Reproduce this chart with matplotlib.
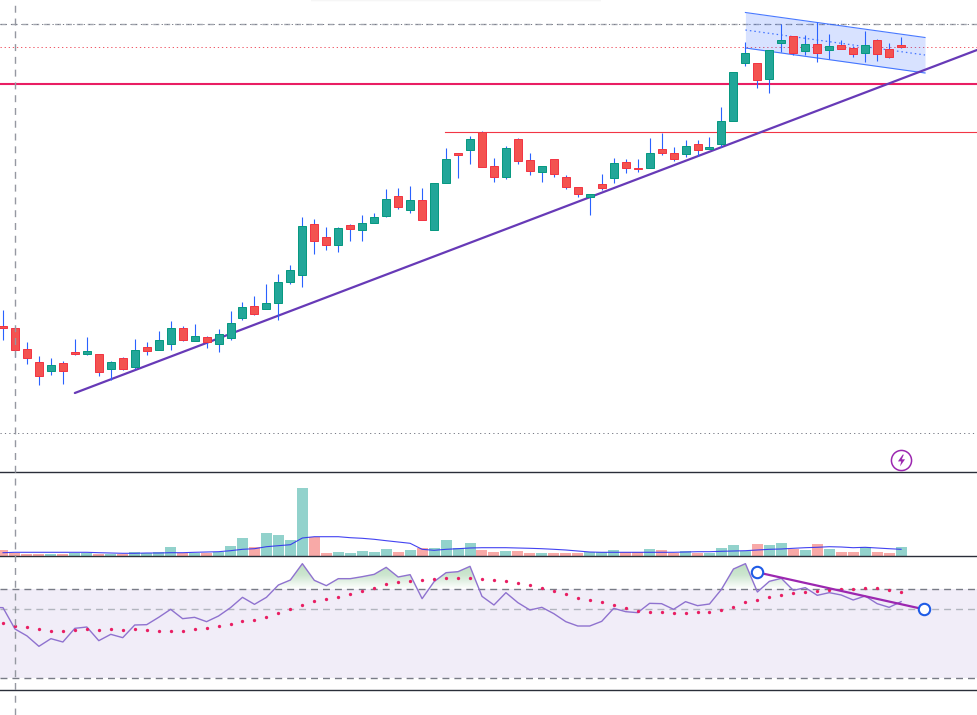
import numpy as np
import matplotlib
matplotlib.use("Agg")
import matplotlib.pyplot as plt
from matplotlib.path import Path
from matplotlib.transforms import blended_transform_factory
from matplotlib.colors import LinearSegmentedColormap
from matplotlib.lines import Line2D

# OHLC series, one value per session
body_top = [146.0,143.7,122.7,109.7,106.7,108.7,120.0,120.7,117.7,109.7,113.7,121.7,124.7,131.7,143.7,143.7,135.7,134.7,137.7,148.7,
            164.7,165.7,168.7,189.7,201.7,245.7,247.7,234.7,243.7,246.7,248.7,254.7,272.7,275.7,271.7,271.7,288.7,312.7,318.7,332.7,
            339.7,305.7,323.7,332.7,311.7,305.7,312.7,294.7,284.7,277.7,287.7,308.7,309.7,304.0,318.7,322.7,318.7,325.7,327.7,324.7,
            350.7,399.7,418.7,408.7,421.7,431.7,435.7,427.7,427.7,425.7,426.7,423.7,426.7,431.7,422.7,426.7]
body_bottom = [144.3,122.3,113.7,96.3,100.7,101.3,118.3,118.3,100.3,103.3,103.3,105.3,121.3,122.3,128.3,132.3,131.3,130.3,128.3,134.3,
               154.3,158.3,163.5,168.7,189.7,196.7,231.3,226.7,227.3,243.3,242.3,248.7,256.3,265.3,262.3,251.7,241.7,288.7,316.7,321.7,
               304.7,294.7,294.7,310.7,300.7,299.7,297.7,284.7,277.7,275.3,284.3,293.7,303.7,303.3,303.7,318.7,312.7,317.7,321.7,322.7,
               327.7,350.7,408.7,391.7,393.3,428.7,418.7,420.7,418.7,421.7,422.7,417.7,418.7,417.7,414.7,424.7]
session_high = [162,144.7,130,116,114,111,133,135,118,111,115,133,130,141,151,146,148,136,143,161,
                170,176,188,198,207,255,253,245,245,248,257,259,283,284,286,284,288.7,324,319,336,
                341,314,326,334,319,305.7,312.7,296.7,284.7,278,298,314,313,313,334,339,324.7,332,332,335,
                364.7,399.7,429.7,408.7,422,447.7,436,436.7,449.7,437.7,431.7,425.7,440.7,432.7,428.7,434.7]
session_low = [132,115.3,108.3,87.3,97.3,88.3,117.3,117.3,96.3,91.7,102.3,103.3,117.3,122.3,122,131,131.3,124.3,120.3,132,
               152,157,163.5,152.3,188.3,185.3,218.3,222.3,220.3,231.3,231.3,248.7,255.3,263.3,259.3,251.7,241.7,288.7,294.3,308.3,
               304.7,290.3,293.3,308.3,297.3,290.3,294.7,282.7,275.3,257,282.3,288.7,299.3,300.3,303.7,317,311.3,315.3,316.3,322.7,
               324.7,350.7,406.3,384.3,379.3,419.7,416.7,417.3,410.3,412.7,422.7,415.3,410.3,411.3,413.7,423.7]
candle_dir = list("rrrrgrrgrgrgrggrgrgg" "grggggrrgrgggrgrggrg" "rrgrrgrrrgrgrrgrrgrg" "gggrggrgrgrrgrrr")

# Volume bars and their moving average
volume = [6,3,2,2,2,2,3,3,2,2,2,4,3,4,9,3,3,3,4,10,18,9,23,21,16,68,19,3,4,3,5,4,7,4,6,8,8,16,8,13,6,
          4,5,5,3,3,3,3,3,4,4,6,4,4,7,6,3,5,3,3,8,11,5,12,11,13,7,6,12,7,4,4,9,4,3,9]
volume_dir = list("rrrrgrggrgrggggrgrgg" "grggggrrgggggrgrgggg" "rrgrrgrrrgggrrgrrgrg" "gggrggrgrgrrgrrg")
volume_ma = [3.3,3.7,3.7,3.7,3.7,3.7,3.7,3.7,3.3,3.0,2.7,2.7,3.0,3.0,3.3,3.3,3.7,4.0,4.3,5.3,
             6.7,7.3,9.3,10.3,11.3,18.0,19.3,19.3,19.3,18.3,17.7,16.7,15.3,14.0,12.7,6.7,5.7,6.7,7.3,8.0,
             8.3,8.3,8.3,8.0,7.7,7.3,6.7,6.0,5.0,4.0,3.7,3.7,3.7,3.7,3.7,3.7,3.7,4.0,4.3,4.3,
             4.7,5.0,5.3,6.0,6.7,7.0,7.7,8.3,8.7,9.3,9.0,8.3,8.7,8.0,7.3,6.7]

# RSI starts one session before the first candle
rsi = [61.85,61.7,52.1,49.0,44.3,47.75,46.25,52.4,53.0,46.85,49.7,48.2,53.9,54.05,57.35,60.95,56.75,57.35,55.4,57.95,61.7,66.35,63.2,66.35,71.9,74.15,81.5,74.0,71.6,
       74.75,74.75,75.65,76.7,79.85,75.5,76.55,65.75,73.4,77.45,77.9,80.3,66.8,62.9,68.45,63.95,60.65,61.85,59.0,55.4,53.45,53.45,55.55,61.4,59.9,59.45,63.65,
       63.5,60.95,64.4,62.6,63.35,69.95,79.1,81.5,68.75,73.55,74.9,69.5,70.7,67.25,68.45,67.4,65.15,66.95,63.5,61.85,64.4]
rsi_ma = [54.65,53.6,52.85,51.95,51.05,51.05,51.5,51.95,51.5,51.95,51.5,51.95,51.5,51.05,51.05,51.05,51.95,52.4,53.3,54.2,55.55,56.0,57.35,59.15,60.95,62.75,64.55,65.45,
          66.35,67.7,69.05,70.4,72.2,73.1,73.55,74.0,74.45,74.9,74.9,74.9,74.45,74.0,73.55,72.65,71.75,70.4,69.05,67.7,65.9,65.0,64.1,62.75,61.4,60.05,59.6,
          59.6,59.15,59.15,59.6,59.6,60.5,61.85,64.1,65.0,66.35,67.25,68.15,68.6,69.05,69.5,69.95,69.95,70.4,70.4,69.5,68.6]

# Price levels, trendlines and channel drawn over the candles
level_dashed = 448.3
level_dotted_red = 424.7
level_support = 388.0
level_resistance = 340.0
level_floor = 39.0
trend_sessions = [6.0, 81.34]
trend_prices = [79.0, 422.0]
channel_sessions = [62.0, 77.0]
channel_top = [459.5, 434.5]
channel_mid = [442.0, 417.0]
channel_bottom = [424.0, 399.0]
rsi_trend_sessions = [63.0, 76.93]
rsi_trend_values = [77.6, 60.95]
rsi_upper, rsi_mid, rsi_lower = 70.0, 60.95, 30.0

UP_FACE, UP_EDGE = "#22a699", "#089981"
DOWN_FACE, DOWN_EDGE = "#f35350", "#f23645"
WICK = "#2962ff"
PX = 0.72

W, H = 977, 715
fig = plt.figure(figsize=(W / 100, H / 100), dpi=100, facecolor="white")


def pane(top, bottom):
    ax = fig.add_axes([0, (H - bottom) / H, 1, (bottom - top) / H])
    ax.set_xlim(-0.2505, 81.34)
    ax.set_xticks([])
    ax.set_yticks([])
    for side in ("top", "left", "right"):
        ax.spines[side].set_visible(False)
    ax.spines["bottom"].set_color("#2a2e39")
    ax.spines["bottom"].set_linewidth(1.0)
    ax.patch.set_alpha(0)
    return ax


ax_price = pane(0, 472)
ax_vol = pane(472, 556)
ax_rsi = pane(556, 690)
ax_price.set_ylim(0, 472)
ax_vol.set_ylim(0, 84)
ax_rsi.set_ylim(24.65, 84.95)

sessions = np.arange(len(body_top))
top = np.array(body_top)
bottom = np.array(body_bottom)
is_up = np.array(candle_dir) == "g"

# Faint shadow along the upper edge
shade = LinearSegmentedColormap.from_list("shade", ["#ffffff", "#eeeeee"])
ax_price.imshow(np.linspace(0, 1, 8).reshape(-1, 1), cmap=shade, aspect="auto",
                extent=(25.7, 49.9, 469.5, 472), origin="lower", zorder=0)
ax_price.set_xlim(-0.2505, 81.34)
ax_price.set_ylim(0, 472)

# Horizontal levels
ax_price.axhline(level_dashed, color="#a3a6af", lw=1.0, dashes=(6 / 1.4, 5 / 1.4), zorder=1)
ax_price.axhline(level_dashed, color="#787b86", lw=PX, dashes=(1.2, 4), zorder=1)
ax_price.axhline(level_dotted_red, color="#f05a68", lw=PX, dashes=(1.3, 2.8), zorder=1)
ax_price.axhline(level_floor, color="#787b86", lw=PX, dashes=(1.2, 3.2), zorder=1)
ax_price.axhline(level_support, color="#e91e63", lw=1.5, zorder=2)
ax_price.plot([36.9, 81.34], [level_resistance] * 2, color="#f23645", lw=0.8, zorder=2)

# Falling channel
ax_price.fill_between(channel_sessions, channel_bottom, channel_top, color="#2962ff", alpha=0.18, lw=0, zorder=2)
ax_price.plot(channel_sessions, channel_top, color="#2962ff", lw=0.8, alpha=0.85, zorder=3)
ax_price.plot(channel_sessions, channel_bottom, color="#2962ff", lw=0.8, alpha=0.85, zorder=3)
ax_price.plot(channel_sessions, channel_mid, color="#2962ff", lw=0.9, dashes=(1.2, 2.4), alpha=0.85, zorder=3)

# Rising trendline
ax_price.plot(trend_sessions, trend_prices, color="#673ab7", lw=1.6, zorder=3, solid_capstyle="round")

# Candles
ax_price.vlines(sessions, session_low, session_high, color=WICK, lw=PX * 1.1, zorder=4)
ax_price.bar(sessions, top - bottom, bottom=bottom, width=8.0 / 11.975,
             color=[UP_FACE if u else DOWN_FACE for u in is_up],
             edgecolor=[UP_EDGE if u else DOWN_EDGE for u in is_up],
             linewidth=PX, zorder=5)

# Round alert badge with a lightning bolt
ax_price.plot(75, 12.5, marker="o", ms=14.5, mfc="white", mec="#9c27b0", mew=1.1, zorder=6)
bolt = Path([(0.2, 1), (-0.6, -0.15), (-0.05, -0.15), (-0.25, -1), (0.6, 0.2), (0.05, 0.2), (0.4, 1), (0.2, 1)], closed=True)
ax_price.plot(75, 12.5, marker=bolt, ms=8.5, mfc="#9c27b0", mec="none", zorder=7)

# Volume pane
vol_up = np.array(volume_dir) == "g"
ax_vol.bar(sessions, volume, width=11 / 11.975,
           color=["#92d2cc" if u else "#f8a9a7" for u in vol_up], lw=0, zorder=2)
ax_vol.plot(sessions, volume_ma, color="#2f2ff0", lw=0.8, alpha=0.9, zorder=3)

# RSI pane: band, reference levels, overbought gradient, line and average
rsi_x = np.arange(-1, len(rsi) - 1)
rsi_vals = np.array(rsi)
ax_rsi.axhspan(rsi_lower, rsi_upper, color="#7e57c2", alpha=0.105, lw=0, zorder=1)
ax_rsi.axhline(rsi_upper, color="#787b86", lw=1.0, dashes=(5, 3.6), zorder=2)
ax_rsi.axhline(rsi_lower, color="#787b86", lw=1.0, dashes=(5, 3.6), zorder=2)
ax_rsi.axhline(rsi_mid, color="#b2b5be", lw=1.0, dashes=(5, 3.6), zorder=2)

over = ax_rsi.fill_between(rsi_x, rsi_upper, rsi_vals, where=rsi_vals > rsi_upper, interpolate=True, lw=0, alpha=0)
clip = Path.make_compound_path(*over.get_paths())
green = LinearSegmentedColormap.from_list("over", ["#ffffff", "#cde6d0", "#b9ddbd"])
grad = ax_rsi.imshow(np.linspace(0, 1, 64).reshape(-1, 1), cmap=green, aspect="auto", origin="lower",
                     extent=(-0.25, 81.34, rsi_upper, 82.5), zorder=1.5)
grad.set_clip_path(clip, transform=ax_rsi.transData)
ax_rsi.set_xlim(-0.2505, 81.34)
ax_rsi.set_ylim(24.65, 84.95)

ax_rsi.plot(rsi_x, rsi_vals, color="#8f72cf", lw=1.0, zorder=3)
ax_rsi.plot(sessions, rsi_ma, ls="none", marker="o", ms=2.4, mfc="#e91e63", mec="none", zorder=4)

# Drawn trendline with its two end handles
ax_rsi.plot(rsi_trend_sessions, rsi_trend_values, color="#9c27b0", lw=1.6, zorder=5)
ax_rsi.plot(rsi_trend_sessions, rsi_trend_values, ls="none", marker="o", ms=8.2,
            mfc="white", mec="#1e5be6", mew=1.5, zorder=6)

# Crosshair running through all panes
cross = blended_transform_factory(ax_price.transData, fig.transFigure)
fig.add_artist(Line2D([1, 1], [0, 1], transform=cross, color="#9598a1", lw=1.0, dashes=(5, 4.2), zorder=1))

fig.savefig("out.png", dpi=100, facecolor="white")
